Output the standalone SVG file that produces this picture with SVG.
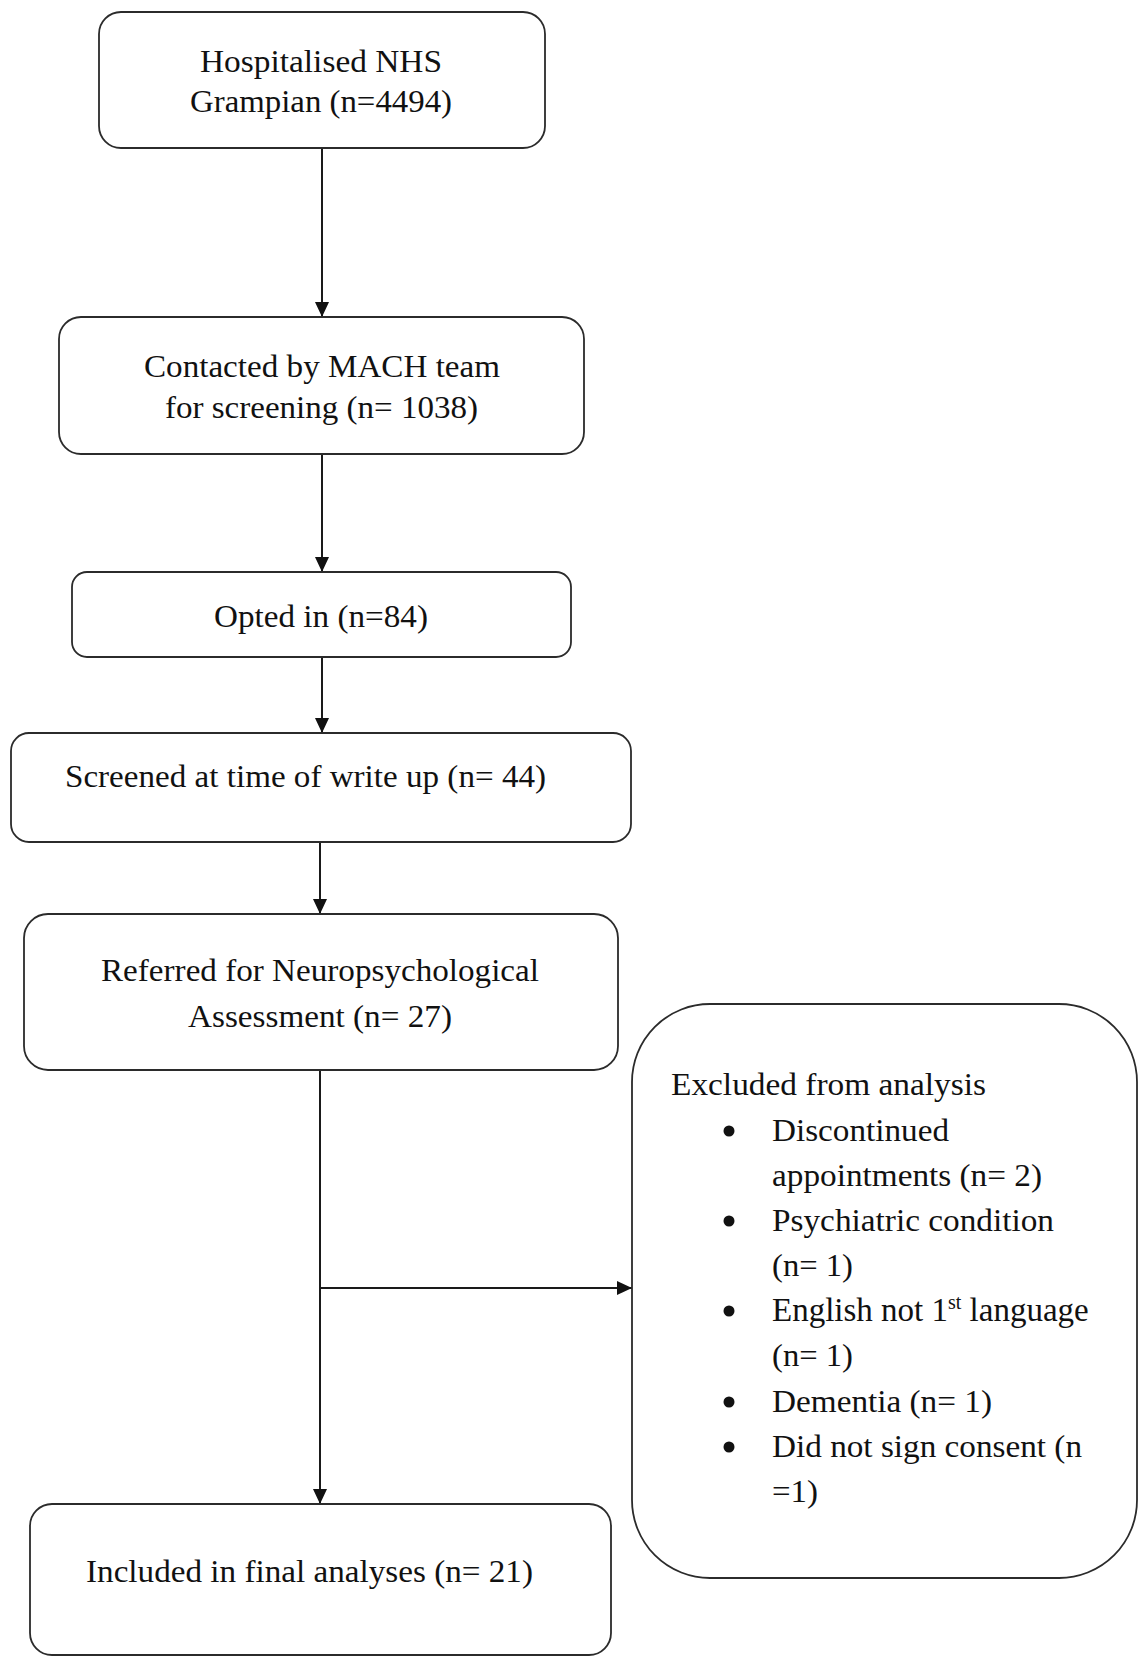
<svg xmlns="http://www.w3.org/2000/svg" width="1138" height="1656" viewBox="0 0 1138 1656">
<style>
.box{fill:#fff;stroke:#2b2b2b;stroke-width:1.8}
.t{font-family:"Liberation Serif","Times New Roman",serif;font-size:32px;fill:#111}
.ln{stroke:#1a1a1a;stroke-width:2;fill:none}
</style>
<defs>
<marker id="ah" markerWidth="15" markerHeight="14" refX="15" refY="7" orient="auto" markerUnits="userSpaceOnUse">
<path d="M0,0 L15,7 L0,14 Z" fill="#111"/>
</marker>
</defs>
<rect width="1138" height="1656" fill="#fff"/>
<g id="connectors">
<line class="ln" x1="322" y1="148" x2="322" y2="317" marker-end="url(#ah)"/>
<line class="ln" x1="322" y1="454" x2="322" y2="572" marker-end="url(#ah)"/>
<line class="ln" x1="322" y1="657" x2="322" y2="733" marker-end="url(#ah)"/>
<line class="ln" x1="320" y1="842" x2="320" y2="914" marker-end="url(#ah)"/>
<line class="ln" x1="320" y1="1070" x2="320" y2="1504" marker-end="url(#ah)"/>
<line class="ln" x1="320" y1="1288" x2="632" y2="1288" marker-end="url(#ah)"/>
</g>
<g id="n1">
<rect class="box" x="99" y="12" width="446" height="136" rx="22"/>
<text class="t" x="200" y="72" textLength="242" lengthAdjust="spacingAndGlyphs">Hospitalised NHS</text>
<text class="t" x="190" y="112" textLength="262" lengthAdjust="spacingAndGlyphs">Grampian (n=4494)</text>
</g>
<g id="n2">
<rect class="box" x="59" y="317" width="525" height="137" rx="22"/>
<text class="t" x="144" y="377" textLength="356" lengthAdjust="spacingAndGlyphs">Contacted by MACH team</text>
<text class="t" x="165" y="418" textLength="313" lengthAdjust="spacingAndGlyphs">for screening (n= 1038)</text>
</g>
<g id="n3">
<rect class="box" x="72" y="572" width="499" height="85" rx="15"/>
<text class="t" x="214" y="627" textLength="214" lengthAdjust="spacingAndGlyphs">Opted in (n=84)</text>
</g>
<g id="n4">
<rect class="box" x="11" y="733" width="620" height="109" rx="18"/>
<text class="t" x="65" y="787" textLength="481" lengthAdjust="spacingAndGlyphs">Screened at time of write up (n= 44)</text>
</g>
<g id="n5">
<rect class="box" x="24" y="914" width="594" height="156" rx="24"/>
<text class="t" x="101" y="981" textLength="438" lengthAdjust="spacingAndGlyphs">Referred for Neuropsychological</text>
<text class="t" x="188" y="1027" textLength="264" lengthAdjust="spacingAndGlyphs">Assessment (n= 27)</text>
</g>
<g id="n6">
<rect class="box" x="632" y="1004" width="505" height="574" rx="78"/>
<text class="t" x="671" y="1095" textLength="315" lengthAdjust="spacingAndGlyphs">Excluded from analysis</text>
<circle cx="729" cy="1131" r="5.5" fill="#111"/>
<text class="t" x="772" y="1141" textLength="177" lengthAdjust="spacingAndGlyphs">Discontinued</text>
<text class="t" x="772" y="1186" textLength="270" lengthAdjust="spacingAndGlyphs">appointments (n= 2)</text>
<circle cx="729" cy="1221" r="5.5" fill="#111"/>
<text class="t" x="772" y="1231" textLength="282" lengthAdjust="spacingAndGlyphs">Psychiatric condition</text>
<text class="t" x="772" y="1276" textLength="81" lengthAdjust="spacingAndGlyphs">(n= 1)</text>
<circle cx="729" cy="1311" r="5.5" fill="#111"/>
<text class="t" x="772" y="1321" style="font-size:33px">English not 1<tspan style="font-size:20px" dy="-12">st</tspan><tspan dy="12"> language</tspan></text>
<text class="t" x="772" y="1366" textLength="81" lengthAdjust="spacingAndGlyphs">(n= 1)</text>
<circle cx="729" cy="1402" r="5.5" fill="#111"/>
<text class="t" x="772" y="1412" textLength="220" lengthAdjust="spacingAndGlyphs">Dementia (n= 1)</text>
<circle cx="729" cy="1447" r="5.5" fill="#111"/>
<text class="t" x="772" y="1457" textLength="310" lengthAdjust="spacingAndGlyphs">Did not sign consent (n</text>
<text class="t" x="772" y="1502" textLength="46" lengthAdjust="spacingAndGlyphs">=1)</text>
</g>
<g id="n7">
<rect class="box" x="30" y="1504" width="581" height="151" rx="22"/>
<text class="t" x="86" y="1582" textLength="447" lengthAdjust="spacingAndGlyphs">Included in final analyses (n= 21)</text>
</g>
</svg>
